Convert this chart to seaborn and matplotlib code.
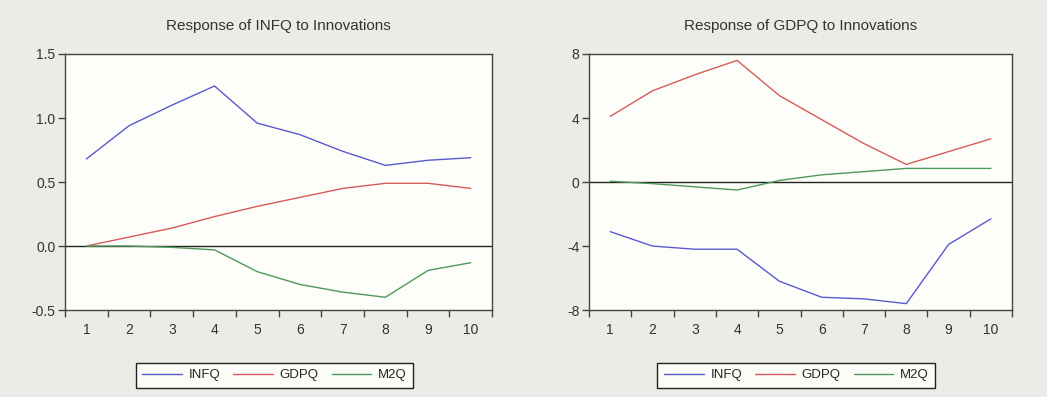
import numpy as np
import pandas as pd
import matplotlib
matplotlib.use("Agg")
import matplotlib.pyplot as plt
import seaborn as sns

periods = [1, 2, 3, 4, 5, 6, 7, 8, 9, 10]
series_names = ["INFQ", "GDPQ", "M2Q"]

# Response of INFQ to Innovations
infq_infq = [0.68, 0.94, 1.10, 1.25, 0.96, 0.87, 0.74, 0.63, 0.67, 0.69]
infq_gdpq = [0.00, 0.07, 0.14, 0.23, 0.31, 0.38, 0.45, 0.49, 0.49, 0.45]
infq_m2q = [0.00, 0.00, -0.01, -0.03, -0.20, -0.30, -0.36, -0.40, -0.19, -0.13]

# Response of GDPQ to Innovations
gdpq_infq = [-3.1, -4.0, -4.2, -4.2, -6.2, -7.2, -7.3, -7.6, -3.9, -2.3]
gdpq_gdpq = [4.1, 5.7, 6.7, 7.6, 5.4, 3.9, 2.4, 1.1, 1.9, 2.7]
gdpq_m2q = [0.05, -0.1, -0.3, -0.5, 0.1, 0.45, 0.65, 0.85, 0.85, 0.85]

titles = ["Response of INFQ to Innovations", "Response of GDPQ to Innovations"]
left_yticks = [-0.5, 0.0, 0.5, 1.0, 1.5]
left_yticklabels = ["-0.5", "0.0", "0.5", "1.0", "1.5"]
right_yticks = [-8, -4, 0, 4, 8]
right_yticklabels = ["-8", "-4", "0", "4", "8"]

colors = {"INFQ": "#5a5ad0", "GDPQ": "#d85a5a", "M2Q": "#4f9a5a"}

def long_df(a, b, c):
    rows = []
    for name, vals in zip(series_names, [a, b, c]):
        for p, v in zip(periods, vals):
            rows.append({"period": p, "value": v, "series": name})
    return pd.DataFrame(rows)

df_left = long_df(infq_infq, infq_gdpq, infq_m2q)
df_right = long_df(gdpq_infq, gdpq_gdpq, gdpq_m2q)

sns.set_theme(style="white")
plt.rcParams['font.family'] = ['Liberation Sans', 'DejaVu Sans']

fig = plt.figure(figsize=(10.47, 3.97), dpi=100)
fig.patch.set_facecolor("#ebebe7")

ax1 = fig.add_axes([0.0621, 0.219, 0.408, 0.645])
ax2 = fig.add_axes([0.5626, 0.219, 0.404, 0.645])

panels = [
    (ax1, df_left, (-0.5, 1.5), left_yticks, left_yticklabels),
    (ax2, df_right, (-8, 8), right_yticks, right_yticklabels),
]

for ax, df, ylim, yt, ytl in panels:
    ax.set_facecolor("#fdfdf9")
    ax.axhline(0, color="#222222", lw=1.0, zorder=1)
    sns.lineplot(data=df, x="period", y="value", hue="series",
                 hue_order=series_names, palette=colors, lw=1.0,
                 ax=ax, legend=True, zorder=2)
    ax.set_xlim(0.5, 10.5)
    ax.set_ylim(*ylim)
    ax.set_xticks(periods)
    ax.set_xticklabels([str(p) for p in periods])
    ax.set_xticks([p + 0.5 for p in [0] + periods], minor=True)
    ax.tick_params(axis="x", which="major", length=0, pad=9, labelsize=10, colors="#333333")
    ax.tick_params(axis="x", which="minor", length=5, width=1, direction="out", color="#444444", bottom=True)
    ax.set_yticks(yt)
    ax.set_yticklabels(ytl)
    ax.tick_params(axis="y", which="major", length=5, width=1, direction="out", left=True,
                   labelsize=10, color="#444444", labelcolor="#333333", pad=2)
    ax.set_xlabel("")
    ax.set_ylabel("")
    for s in ax.spines.values():
        s.set_color("#444444")
        s.set_linewidth(1.0)
    handles, labels = ax.get_legend_handles_labels()
    ax.legend(handles, labels, loc="center", bbox_to_anchor=(0.49, -0.255), ncol=3,
              frameon=True, fancybox=False, edgecolor="#222222", facecolor="#fbfbf8",
              framealpha=1, fontsize=9.5, handlelength=3.0, columnspacing=1.0,
              handletextpad=0.5, borderpad=0.5)
    ax.get_legend().get_frame().set_linewidth(1.0)

ax1.set_title(titles[0], fontsize=11, color="#333333", pad=17)
ax2.set_title(titles[1], fontsize=11, color="#333333", pad=17)

fig.savefig("out.png", dpi=100, facecolor=fig.get_facecolor())
